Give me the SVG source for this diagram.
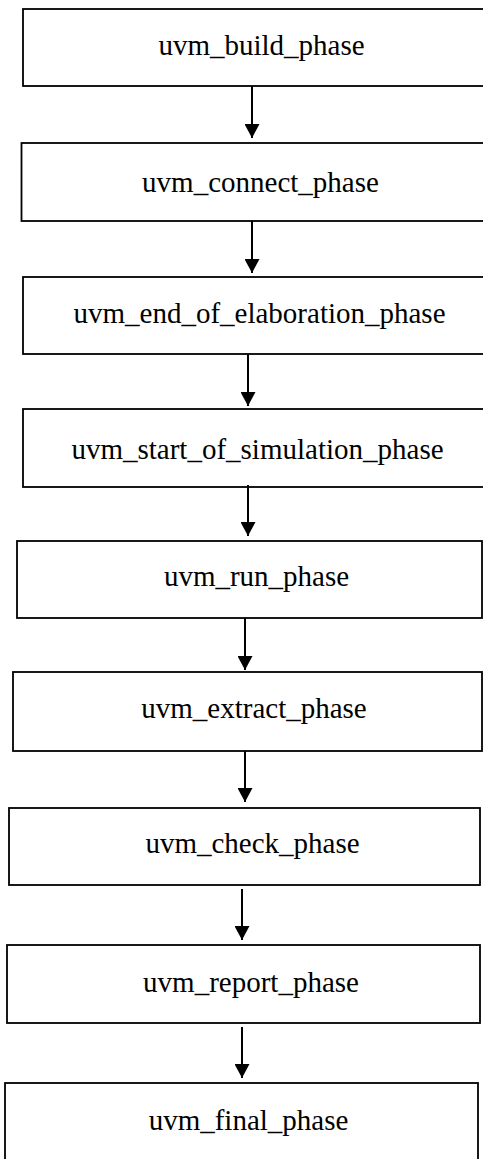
<svg xmlns="http://www.w3.org/2000/svg" width="483" height="1159" viewBox="0 0 483 1159">
<style>
.box{fill:#fff;stroke:#000;stroke-width:1.8}
.lbl{font-family:"Liberation Serif","Times New Roman",serif;font-size:29px;fill:#000;text-anchor:middle}
.con{stroke:#000;stroke-width:2;fill:none;marker-end:url(#ah)}
</style>
<defs>
<marker id="ah" viewBox="0 0 14 15" refX="14" refY="7.5" markerWidth="14" markerHeight="15" markerUnits="userSpaceOnUse" orient="auto">
<path d="M0,0 L14,7.5 L0,15 z" fill="#000"/>
</marker>
</defs>
<rect width="483" height="1159" fill="#fff"/>
<g id="n1"><rect class="box" x="23" y="9" width="470" height="77"/><text class="lbl" x="261.5" y="55">uvm_build_phase</text></g>
<g id="n2"><rect class="box" x="21.5" y="143" width="470" height="78"/><text class="lbl" x="260.5" y="192">uvm_connect_phase</text></g>
<g id="n3"><rect class="box" x="23" y="277" width="470" height="77"/><text class="lbl" x="259.5" y="323">uvm_end_of_elaboration_phase</text></g>
<g id="n4"><rect class="box" x="23" y="409" width="470" height="78"/><text class="lbl" x="257.5" y="459">uvm_start_of_simulation_phase</text></g>
<g id="n5"><rect class="box" x="17" y="541" width="465" height="77"/><text class="lbl" x="256.5" y="586">uvm_run_phase</text></g>
<g id="n6"><rect class="box" x="13" y="672" width="469" height="79"/><text class="lbl" x="254" y="718">uvm_extract_phase</text></g>
<g id="n7"><rect class="box" x="9" y="808" width="471" height="77"/><text class="lbl" x="252.5" y="853">uvm_check_phase</text></g>
<g id="n8"><rect class="box" x="7" y="945" width="473" height="78"/><text class="lbl" x="251" y="992">uvm_report_phase</text></g>
<g id="n9"><rect class="box" x="5" y="1083" width="473" height="100"/><text class="lbl" x="248.5" y="1130">uvm_final_phase</text></g>
<g id="connectors">
<line class="con" x1="252" y1="86" x2="252" y2="138"/>
<line class="con" x1="252" y1="221" x2="252" y2="273"/>
<line class="con" x1="248" y1="354" x2="248" y2="406"/>
<line class="con" x1="248" y1="485" x2="248" y2="536"/>
<line class="con" x1="245" y1="618" x2="245" y2="670"/>
<line class="con" x1="245" y1="751" x2="245" y2="802"/>
<line class="con" x1="242" y1="889" x2="242" y2="940"/>
<line class="con" x1="242" y1="1027" x2="242" y2="1078"/>
</g>
</svg>
